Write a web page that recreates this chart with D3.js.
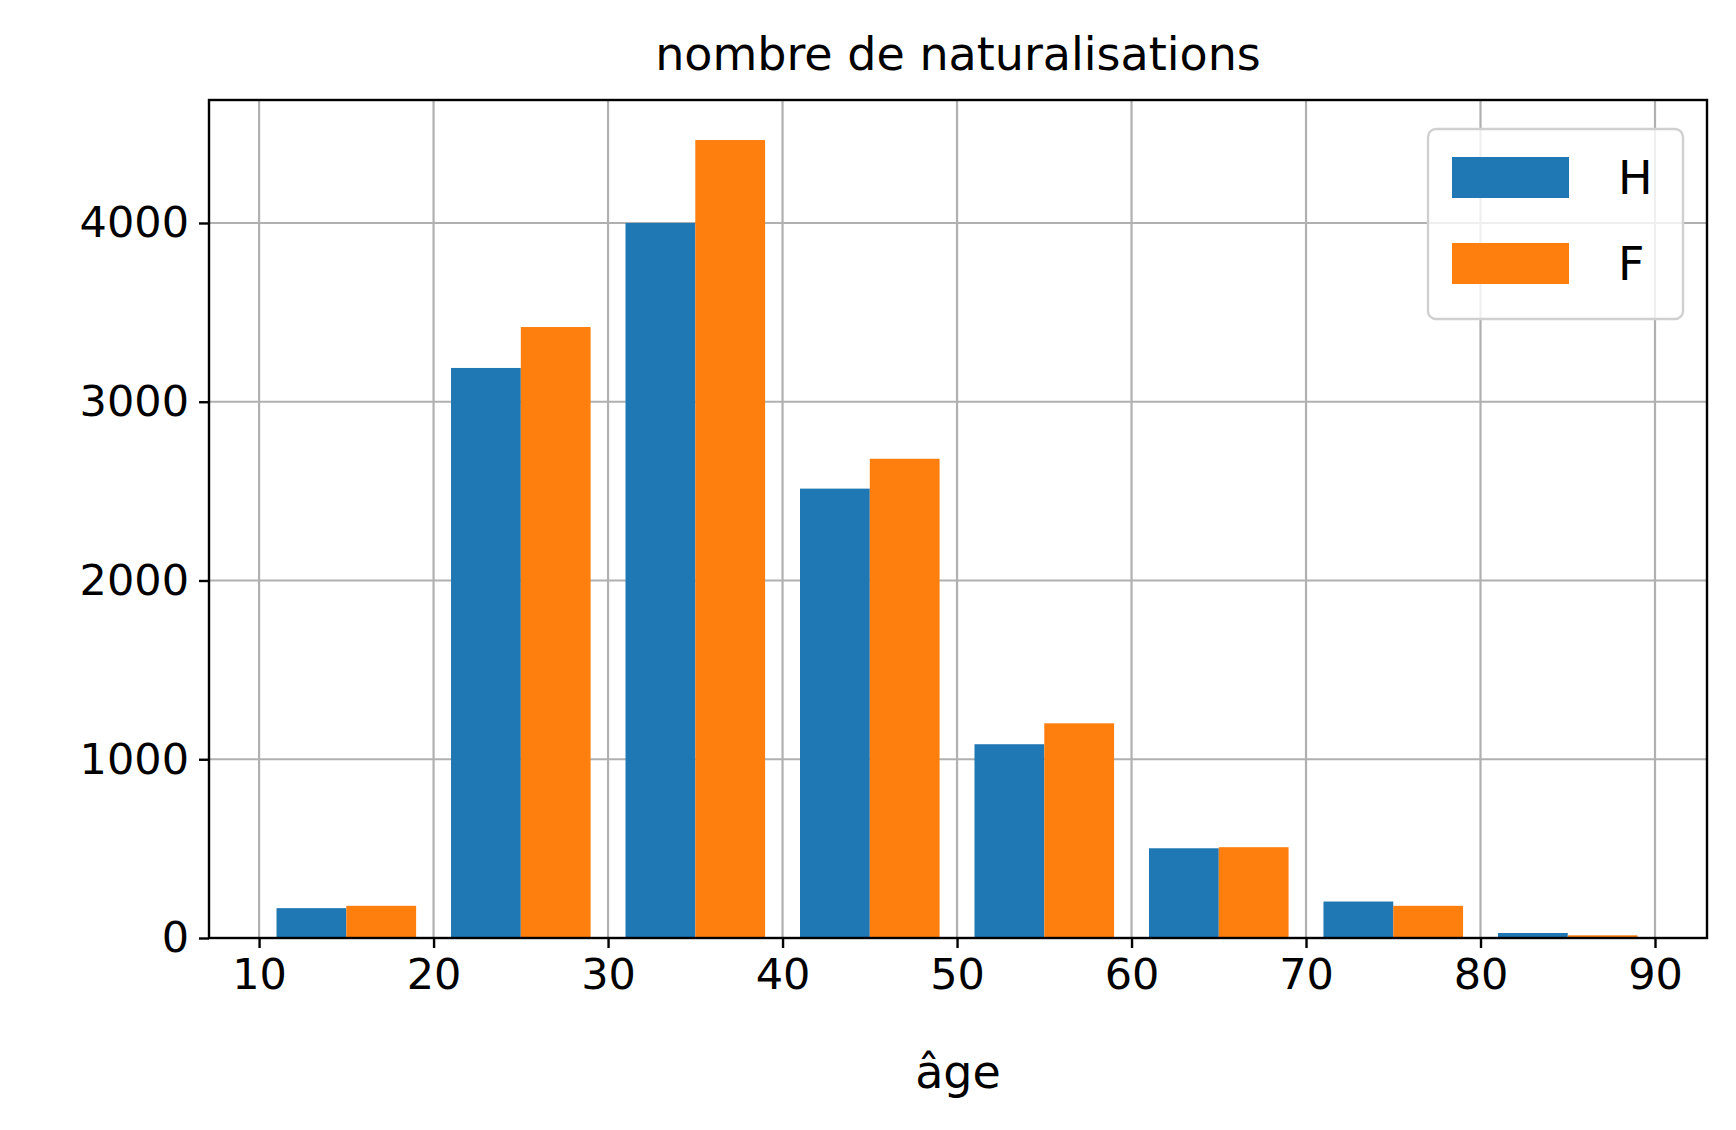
<!DOCTYPE html><html><head><meta charset="utf-8"><script src="https://cdn.jsdelivr.net/npm/d3@7"></script>
<style>body{margin:0;background:#fff}text{font-family:"DejaVu Sans";}</style></head><body><svg id="c" width="1736" height="1130"></svg><script>
const binStarts=[11,21,31,41,51,61,71,81];
const seriesH=[167,3189,4000,2514,1084,502,204,28];
const seriesF=[180,3418,4464,2681,1201,508,180,15];
const xTicks=[10,20,30,40,50,60,70,80,90];
const yTicks=[0,1000,2000,3000,4000];
const svg=d3.select("#c");
const L=209,R=1707,T=100,B=938;
const x=d3.scaleLinear().domain([7.13,92.98]).range([L,R]);
const y=d3.scaleLinear().domain([0,4688]).range([B,T]);
const g=svg.append("g");
xTicks.forEach(t=>g.append("line").attr("x1",x(t)).attr("x2",x(t)).attr("y1",T).attr("y2",B).attr("stroke","#b0b0b0").attr("stroke-width",2.2));
yTicks.forEach(t=>g.append("line").attr("x1",L).attr("x2",R).attr("y1",y(t)).attr("y2",y(t)).attr("stroke","#b0b0b0").attr("stroke-width",2.2));
const series=[{n:"H",v:seriesH,c:"#1f77b4",o:0},{n:"F",v:seriesF,c:"#ff7f0e",o:4}];
series.forEach(s=>g.selectAll(null).data(binStarts).enter().append("rect")
 .attr("x",(d)=>x(d+s.o)).attr("width",(d)=>x(d+s.o+4)-x(d+s.o))
 .attr("y",(d,i)=>y(s.v[i])).attr("height",(d,i)=>B-y(s.v[i])).attr("fill",s.c));
const xa=svg.append("g").attr("transform",`translate(0,${B})`).call(d3.axisBottom(x).tickValues(xTicks).tickSize(10).tickPadding(10).tickFormat(d3.format("d")));
const ya=svg.append("g").attr("transform",`translate(${L},0)`).call(d3.axisLeft(y).tickValues(yTicks).tickSize(10).tickPadding(10).tickFormat(d3.format("d")));
[xa,ya].forEach(a=>{a.select(".domain").remove();a.selectAll("line").attr("stroke","#000").attr("stroke-width",2.4);a.selectAll("text").attr("font-size",43).attr("fill","#000").attr("font-family","DejaVu Sans");});
svg.append("rect").attr("x",L).attr("y",T).attr("width",R-L).attr("height",B-T).attr("fill","none").attr("stroke","#000").attr("stroke-width",2.4);
svg.append("text").attr("x",(L+R)/2).attr("y",70).attr("text-anchor","middle").attr("font-size",46).text("nombre de naturalisations");
svg.append("text").attr("x",(L+R)/2).attr("y",1088).attr("text-anchor","middle").attr("font-size",46).text("âge");
const lg=svg.append("g");
lg.append("rect").attr("x",1428).attr("y",129).attr("width",255).attr("height",190).attr("rx",8).attr("fill","#fff").attr("fill-opacity",0.8).attr("stroke","#d0d0d0").attr("stroke-width",2.4);
series.forEach((s,i)=>{const yy=157+i*86;
 lg.append("rect").attr("x",1452).attr("y",yy).attr("width",117).attr("height",41).attr("fill",s.c);
 lg.append("text").attr("x",1618).attr("y",yy+37).attr("font-size",46).text(s.n);});
</script></body></html>
